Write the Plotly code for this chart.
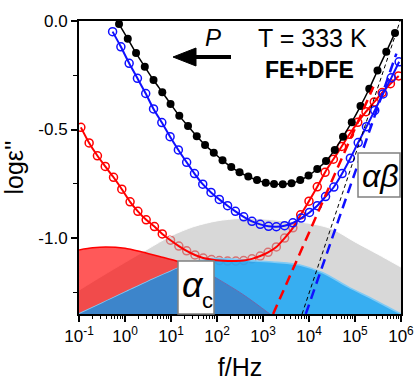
import plotly.graph_objects as go

# ---- measured dielectric loss: log10(f / Hz) and log10(eps'') ----
black_logf = [-0.13, 0.06, 0.24, 0.43, 0.62, 0.81, 0.99, 1.18, 1.37, 1.56, 1.74,
              1.93, 2.12, 2.31, 2.49, 2.68, 2.87, 3.06, 3.24, 3.43, 3.62, 3.81,
              3.99, 4.18, 4.37, 4.56, 4.74, 4.93, 5.12, 5.31, 5.49, 5.68, 5.87]
black_val = [-0.014, -0.082, -0.148, -0.211, -0.272, -0.328, -0.382, -0.437, -0.484,
             -0.531, -0.571, -0.607, -0.642, -0.673, -0.697, -0.717, -0.733, -0.745,
             -0.751, -0.752, -0.748, -0.733, -0.712, -0.682, -0.645, -0.594, -0.533,
             -0.466, -0.392, -0.312, -0.228, -0.142, -0.055]

blue_logf = [-0.27, -0.09, 0.09, 0.27, 0.45, 0.62, 0.80, 0.98, 1.16, 1.34, 1.51, 1.69,
             1.87, 2.05, 2.23, 2.40, 2.58, 2.76, 2.94, 3.12, 3.29, 3.47, 3.65, 3.83,
             4.01, 4.18, 4.36, 4.54, 4.72, 4.90, 5.07, 5.25, 5.43, 5.61, 5.79, 5.96]
blue_val = [-0.049, -0.119, -0.195, -0.264, -0.334, -0.405, -0.468, -0.533, -0.594,
            -0.651, -0.703, -0.752, -0.790, -0.822, -0.851, -0.877, -0.902, -0.923,
            -0.937, -0.946, -0.948, -0.943, -0.930, -0.908, -0.882, -0.851, -0.809,
            -0.765, -0.703, -0.632, -0.560, -0.487, -0.412, -0.336, -0.262, -0.188]

red_logf = [-0.96, -0.78, -0.60, -0.43, -0.25, -0.07, 0.11, 0.28, 0.46, 0.64, 0.81,
            0.99, 1.17, 1.34, 1.52, 1.70, 1.88, 2.05, 2.23, 2.41, 2.58, 2.76, 2.94,
            3.11, 3.29, 3.47, 3.65, 3.82, 4.00, 4.18, 4.35, 4.53, 4.71, 4.88, 5.06,
            5.24, 5.42, 5.59, 5.77, 5.95]
red_val = [-0.490, -0.562, -0.621, -0.670, -0.720, -0.775, -0.833, -0.877, -0.916,
           -0.947, -0.981, -1.010, -1.037, -1.059, -1.078, -1.092, -1.099, -1.104,
           -1.106, -1.106, -1.104, -1.096, -1.083, -1.066, -1.041, -1.000, -0.953,
           -0.893, -0.830, -0.764, -0.697, -0.637, -0.578, -0.522, -0.467, -0.418,
           -0.373, -0.330, -0.289, -0.253]

# ---- relaxation components (shaded) ----
gray_logf = [-1.0, -0.5, 0.0, 0.5, 1.0, 1.5, 2.0, 2.5, 3.0, 3.5, 4.0, 4.5, 5.0, 5.5, 6.0]
gray_val = [-1.240, -1.175, -1.112, -1.050, -0.990, -0.947, -0.921, -0.910, -0.912,
            -0.922, -0.932, -0.958, -1.018, -1.075, -1.134]

redc_logf = [-1.0, -0.7, -0.42, 0.0, 0.35, 0.75, 1.17, 1.5, 1.9, 2.4, 3.0]
redc_val = [-1.055, -1.045, -1.041, -1.047, -1.063, -1.085, -1.110, -1.140, -1.190,
            -1.260, -1.350]

lblue_logf = [-1.0, -0.5, 0.0, 0.5, 1.0, 1.17, 1.5, 1.9, 2.4, 2.85, 3.3, 3.8, 4.3,
              4.85, 5.4, 6.0]
lblue_val = [-1.350, -1.300, -1.250, -1.200, -1.153, -1.137, -1.112, -1.095, -1.098,
             -1.106, -1.112, -1.124, -1.160, -1.225, -1.283, -1.350]

dblue_logf = [-1.0, -0.5, 0.0, 0.5, 1.0, 1.17, 1.45, 1.7, 1.94, 2.55, 3.15]
dblue_val = [-1.350, -1.300, -1.250, -1.200, -1.153, -1.137, -1.128, -1.148, -1.179,
             -1.258, -1.350]

# ---- high-frequency power-law tails ----
red_tail_logf = [3.22, 5.40]
red_tail_val = [-1.350, -0.303]
black_tail_logf = [3.85, 5.98]
black_tail_val = [-1.350, 0.0]
blue_tail_logf = [3.93, 5.90]
blue_tail_val = [-1.350, -0.150]

# ---- axes ----
x_major = [-1, 0, 1, 2, 3, 4, 5, 6]
x_labels = ["10<sup>-1</sup>", "10<sup>0</sup>", "10<sup>1</sup>", "10<sup>2</sup>",
            "10<sup>3</sup>", "10<sup>4</sup>", "10<sup>5</sup>", "10<sup>6</sup>"]
y_major = [0.0, -0.5, -1.0]
y_labels = ["0.0", "-0.5", "-1.0"]
y_minor = [-0.25, -0.75, -1.25]

FONT = "Liberation Sans, Arial, sans-serif"
FLOOR = -1.6
W, H = 414, 381
L, R, T, B = 79, 13, 21, 67
PW, PH = W - L - R, H - T - B


def hz(vals):
    return [10 ** v for v in vals]


def px(x, y):
    """pixel position -> paper coordinates"""
    return (x - L) / PW, (H - B - y) / PH


fig = go.Figure()


def area(logf, val, fill, edge, edge_w):
    fig.add_trace(go.Scatter(x=hz([logf[0], logf[-1]]), y=[FLOOR, FLOOR], mode="lines",
                             line=dict(width=0), hoverinfo="skip", showlegend=False))
    fig.add_trace(go.Scatter(x=hz(logf), y=val, mode="lines", fill="tonexty",
                             fillcolor=fill,
                             line=dict(color=edge, width=edge_w, shape="spline",
                                       smoothing=0.8),
                             hoverinfo="skip", showlegend=False))


# red data points sit beneath the shaded components
fig.add_trace(go.Scatter(x=hz(red_logf), y=red_val, mode="markers",
                         marker=dict(symbol="circle-open", size=8, color="#ff0000",
                                     line=dict(width=1.5)),
                         showlegend=False))

area(gray_logf, gray_val, "rgba(190,190,190,0.6)", "rgba(255,255,255,0.9)", 1)
area(redc_logf, redc_val, "rgba(255,0,0,0.65)", "#ff0000", 1.6)
area(lblue_logf, lblue_val, "rgba(32,167,244,0.88)", "#7fcaf5", 1.6)
area(dblue_logf, dblue_val, "#3d85cb", "#3d85cb", 0)
fig.add_trace(go.Scatter(x=hz(dblue_logf[8:]), y=dblue_val[8:], mode="lines",
                         line=dict(color="#6c69ad", width=1, shape="spline"),
                         hoverinfo="skip", showlegend=False))

# fit curves and data
fig.add_trace(go.Scatter(x=hz(red_logf), y=red_val, mode="lines",
                         line=dict(color="#ff0000", width=2, shape="spline", smoothing=0.6),
                         showlegend=False))
fig.add_trace(go.Scatter(x=hz(blue_logf), y=blue_val, mode="lines+markers",
                         line=dict(color="#1010ff", width=2, shape="spline", smoothing=0.6),
                         marker=dict(symbol="circle-open", size=8, color="#1010ff",
                                     line=dict(width=1.5)),
                         showlegend=False))
fig.add_trace(go.Scatter(x=hz(black_logf), y=black_val, mode="lines+markers",
                         line=dict(color="#000000", width=1.5, shape="spline", smoothing=0.6),
                         marker=dict(symbol="circle", size=8, color="#000000"),
                         showlegend=False))

# power-law tails
fig.add_trace(go.Scatter(x=hz(red_tail_logf), y=red_tail_val, mode="lines",
                         line=dict(color="#ff0000", width=2.5, dash="10px,6px"),
                         showlegend=False))
fig.add_trace(go.Scatter(x=hz(black_tail_logf), y=black_tail_val, mode="lines",
                         line=dict(color="#000000", width=1, dash="4px,3px"),
                         showlegend=False))
fig.add_trace(go.Scatter(x=hz(blue_tail_logf), y=blue_tail_val, mode="lines",
                         line=dict(color="#1010ff", width=2.5, dash="10px,6px"),
                         showlegend=False))

shapes = []
# label boxes
for (x0, y0, x1, y1) in [(178, 261, 214, 314), (358, 153, 400, 197)]:
    a0, b0 = px(x0, y1)
    a1, b1 = px(x1, y0)
    shapes.append(dict(type="rect", xref="paper", yref="paper", x0=a0, y0=b0, x1=a1, y1=b1,
                       fillcolor="white", line=dict(color="#808080", width=1.5),
                       layer="above"))
# arrow for pressure direction
s0 = px(192, 57)
s1 = px(231, 57)
shapes.append(dict(type="line", xref="paper", yref="paper", x0=s0[0], y0=s0[1],
                   x1=s1[0], y1=s1[1], line=dict(color="black", width=4)))
tip = px(173, 57)
bt = px(196, 48)
bb = px(196, 66)
shapes.append(dict(type="path", xref="paper", yref="paper",
                   path=f"M {tip[0]},{tip[1]} L {bt[0]},{bt[1]} L {bb[0]},{bb[1]} Z",
                   fillcolor="black", line=dict(color="black", width=1)))

annotations = []


def label(text, x, y, size, **kw):
    ax, ay = px(x, y)
    annotations.append(dict(text=text, x=ax, y=ay, xref="paper", yref="paper",
                            showarrow=False, xanchor="center", yanchor="middle",
                            font=dict(family=FONT, size=size, color="black"), **kw))


label("<i>P</i>", 213, 38, 24)
label("T = 333 K", 312, 38, 25)
label("<b>FE+DFE</b>", 309, 70, 23)
label("<i>αβ</i>", 380, 176, 32)
label("<i>α</i>", 193, 284, 36)
label("c", 207, 300, 22)

fig.update_layout(
    width=W, height=H,
    margin=dict(l=L, r=R, t=T, b=B, pad=0, autoexpand=False),
    paper_bgcolor="white", plot_bgcolor="white",
    font=dict(family=FONT, size=17, color="black"),
    shapes=shapes, annotations=annotations,
    showlegend=False,
)
fig.update_xaxes(type="log", range=[-1.0005, 6.0005], showgrid=False, zeroline=False,
                 automargin=False,
                 tickvals=hz(x_major), ticktext=x_labels, ticks="outside",
                 ticklen=6, tickwidth=1.5, tickcolor="black", ticklabeloverflow="allow",
                 showline=True, linewidth=2, linecolor="black", mirror=True,
                 tickfont=dict(size=17),
                 title=dict(text="f/Hz", font=dict(size=25), standoff=14),
                 minor=dict(tickvals=[m * 10 ** d for d in range(-1, 6) for m in range(2, 10)],
                            ticks="outside", ticklen=3, tickwidth=1, tickcolor="black"))
fig.update_yaxes(range=[-1.35, 0.0], showgrid=False, zeroline=False,
                 automargin=False,
                 tickvals=y_major, ticktext=y_labels, ticks="outside",
                 ticklen=6, tickwidth=1.5, tickcolor="black",
                 showline=True, linewidth=2, linecolor="black", mirror=True,
                 tickfont=dict(size=17),
                 title=dict(text="logε''", font=dict(size=25), standoff=8),
                 minor=dict(tickvals=y_minor, ticks="outside", ticklen=4, tickwidth=1,
                            tickcolor="black"))

fig.write_html("out.html")
